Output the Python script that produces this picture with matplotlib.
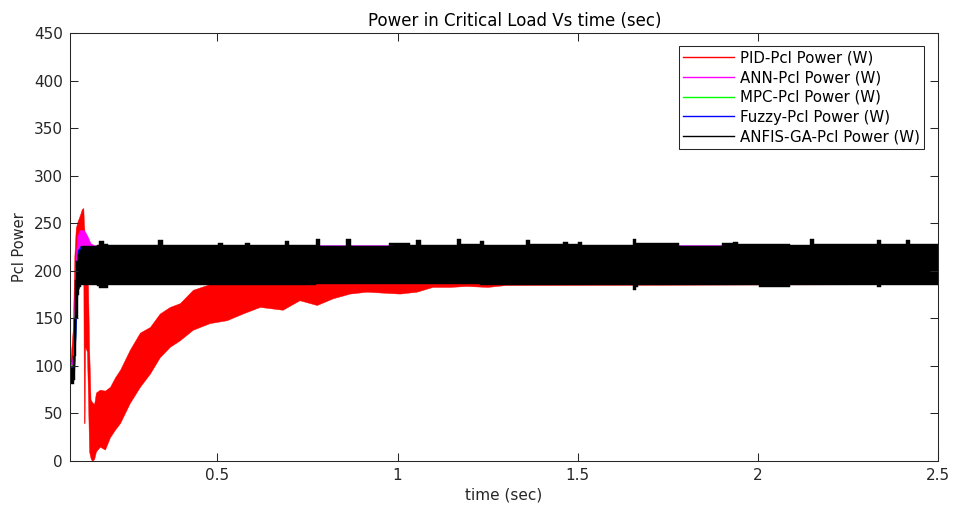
import numpy as np
import matplotlib
matplotlib.use('Agg')
import matplotlib.pyplot as plt

# envelope of each (dense, oscillating) signal: time, upper, lower
pid_t = [0.091, 0.099, 0.103, 0.107, 0.112, 0.118, 0.124, 0.128, 0.1295, 0.1315, 0.133, 0.138,
         0.141, 0.144, 0.148, 0.152, 0.158, 0.163, 0.174, 0.188, 0.202, 0.216, 0.230, 0.257,
         0.285, 0.313, 0.340, 0.368, 0.396, 0.432, 0.479, 0.526, 0.570, 0.618, 0.681, 0.728,
         0.776, 0.820, 0.867, 0.914, 1.006, 1.053, 1.097, 1.144, 1.191, 1.25, 1.30, 2.50]
pid_hi = [100, 140, 215, 245, 252, 258, 265, 266, 250, 240, 200, 188,
          185, 120, 65, 62, 60, 72, 75, 74, 78, 88, 96, 117,
          135, 141, 155, 162, 166, 180, 186, 188, 188, 188, 188, 188,
          188, 188, 188, 188, 188, 188, 188, 188, 188, 188, 188, 188]
pid_lo = [85, 88, 120, 160, 185, 190, 195, 195, 40, 40, 120, 115,
          65, 10, 3, 0, 2, 10, 15, 12, 25, 33, 40, 61,
          78, 92, 109, 120, 127, 138, 145, 148, 155, 162, 159, 169,
          164, 171, 176, 178, 176, 178, 183, 183, 184, 183, 185, 186]

ann_t = [0.091, 0.099, 0.103, 0.107, 0.111, 0.118, 0.128, 0.133, 0.140, 0.148, 0.158, 0.5, 1.0, 1.5, 2.0, 2.5]
ann_hi = [99, 110, 170, 215, 236, 243, 243, 241, 236, 229, 227, 227, 227, 227, 227, 227]
ann_lo = [85, 88, 110, 150, 180, 187, 187, 187, 187, 187, 187, 187, 187, 187, 187, 187]

mpc_t = [0.091, 0.0995, 0.103, 0.107, 0.112, 0.120, 0.5, 1.0, 1.5, 2.0, 2.5]
mpc_hi = [101, 101, 150, 200, 220, 225, 226, 226, 226, 226, 226]
mpc_lo = [98, 98, 100, 140, 178, 187, 187, 187, 187, 187, 187]

fuzzy_t = [0.091, 0.100, 0.103, 0.107, 0.112, 0.120, 0.5, 1.0, 1.5, 2.0, 2.5]
fuzzy_hi = [99, 99, 140, 200, 222, 226, 226.5, 226.5, 226.5, 226.5, 226.5]
fuzzy_lo = [84, 84, 95, 135, 178, 187, 187, 187, 187, 187, 187]

# ANFIS-GA band, each value held until the next time
anfis_t = [0.091, 0.100, 0.103, 0.106, 0.109, 0.112, 0.116, 0.122, 0.165, 0.172, 0.184, 0.196,
           0.336, 0.350, 0.503, 0.515, 0.578, 0.590, 0.688, 0.700, 0.774, 0.786, 0.858, 0.870,
           0.975, 1.035, 1.052, 1.064, 1.165, 1.177, 1.229, 1.241, 1.356, 1.368, 1.460, 1.472,
           1.500, 1.512, 1.654, 1.662, 1.668, 1.780, 1.900, 1.930, 1.945, 2.003, 2.090, 2.144,
           2.156, 2.330, 2.342, 2.410, 2.422, 2.500]
anfis_hi = [98, 110, 150, 190, 210, 218, 222, 226, 227, 231, 228, 227,
            232, 227, 229, 227, 229, 227, 231, 227, 233, 226, 233, 226,
            229, 227, 232, 227, 233, 228, 231, 227, 232, 228, 230, 228,
            230, 227, 233, 229, 229, 226, 229, 230, 228, 228, 227, 233,
            228, 232, 228, 232, 228, 228]
anfis_lo = [81, 81, 85, 110, 150, 175, 183, 185, 184, 182, 182, 185,
            185, 185, 185, 185, 185, 185, 185, 185, 186, 186, 186, 186,
            186, 186, 186, 186, 186, 186, 185, 185, 185, 185, 185, 185,
            185, 185, 180, 183, 185, 185, 185, 185, 185, 183, 185, 185,
            185, 183, 185, 185, 185, 185]

series = [
    ('PID-Pcl Power (W)', '#ff0000', pid_t, pid_hi, pid_lo, None),
    ('ANN-Pcl Power (W)', '#ff00ff', ann_t, ann_hi, ann_lo, None),
    ('MPC-Pcl Power (W)', '#00ff00', mpc_t, mpc_hi, mpc_lo, None),
    ('Fuzzy-Pcl Power (W)', '#0000ff', fuzzy_t, fuzzy_hi, fuzzy_lo, None),
    ('ANFIS-GA-Pcl Power (W)', '#000000', anfis_t, anfis_hi, anfis_lo, 'post'),
]

ink = '#262626'
plt.rcParams['font.family'] = ['DejaVu Sans']

fig = plt.figure(figsize=(9.55, 5.11), dpi=100)
ax = fig.add_axes([70 / 955, 50 / 511, 868 / 955, 428 / 511])

for name, col, t, hi, lo, st in series:
    ax.fill_between(np.array(t), np.array(lo), np.array(hi), facecolor=col,
                    edgecolor=col, lw=0.3, step=st)
    ax.plot([], [], color=col, lw=1, label=name)

ax.set_xlim(0.091, 2.5)
ax.set_ylim(0, 450)
ax.set_xticks([0.5, 1, 1.5, 2, 2.5])
ax.set_xticklabels(['0.5', '1', '1.5', '2', '2.5'])
ax.set_yticks(np.arange(0, 451, 50))

ax.tick_params(direction='in', top=True, right=True, length=6, width=0.75,
               colors=ink, labelcolor=ink, labelsize=11, pad=5)
for s in ax.spines.values():
    s.set_color(ink)
    s.set_linewidth(0.75)

ax.set_title('Power in Critical Load Vs time (sec)', fontsize=12, color='black', pad=5, x=0.512)
ax.set_xlabel('time (sec)', fontsize=11, color=ink, labelpad=3)
ax.set_ylabel('Pcl Power', fontsize=10.5, color=ink, labelpad=5)

leg = ax.legend(loc='upper right', bbox_to_anchor=(0.984, 0.9696), borderaxespad=0,
                fancybox=False, framealpha=1, edgecolor=ink, fontsize=10.8,
                handlelength=3.4, handletextpad=0.4, labelspacing=0.32, borderpad=0.28)
leg.get_frame().set_linewidth(0.75)

fig.savefig('out.png', dpi=100)
